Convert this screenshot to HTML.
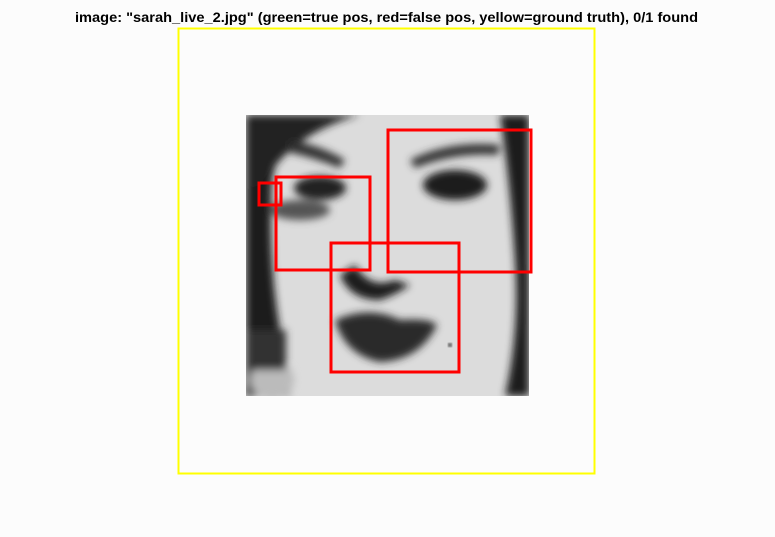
<!DOCTYPE html>
<html><head><meta charset="utf-8"><style>
html,body{margin:0;padding:0;background:#fcfcfc;}
svg{display:block;}
</style></head><body>
<svg id="chart" width="775" height="537" viewBox="0 0 775 537">
<defs>
<filter id="blur" x="-20%" y="-20%" width="140%" height="140%"><feGaussianBlur stdDeviation="4"/></filter>
<filter id="blur2"><feGaussianBlur stdDeviation="1.5"/></filter>
<clipPath id="imgclip"><rect x="246" y="115" width="283" height="281"/></clipPath>
</defs>
<text x="75" y="22" textLength="623" lengthAdjust="spacingAndGlyphs" font-family="Liberation Sans, sans-serif" font-size="14" font-weight="bold" fill="#000">image: "sarah_live_2.jpg" (green=true pos, red=false pos, yellow=ground truth), 0/1 found</text>
<g clip-path="url(#imgclip)">
<rect x="246" y="115" width="283" height="281" fill="#dcdcdc"/>
<g filter="url(#blur)">
<path d="M246,115 L300,115 Q280,140 272,180 Q268,260 280,330 L290,396 L246,396 Z" fill="#1a1a1a"/>
<path d="M246,115 L360,115 Q320,125 290,150 Q270,170 260,185 L246,190 Z" fill="#222"/>
<path d="M500,115 L529,115 L529,396 L505,396 Q520,330 515,260 Q510,180 500,115 Z" fill="#1e1e1e"/>
<path d="M290,140 Q320,145 345,160 L340,168 Q315,158 288,152 Z" fill="#333"/>
<path d="M410,160 Q450,140 500,145 L498,155 Q455,152 415,168 Z" fill="#333"/>
<ellipse cx="320" cy="188" rx="26" ry="12" fill="#222"/>
<ellipse cx="300" cy="210" rx="30" ry="10" fill="#555"/>
<ellipse cx="455" cy="185" rx="32" ry="15" fill="#1c1c1c"/>
<path d="M340,275 Q350,300 380,300 Q395,295 410,285 L395,280 Q370,290 355,265 Z" fill="#1a1a1a"/>
<path d="M335,320 Q370,305 400,320 Q430,318 437,325 Q420,360 380,362 Q345,355 335,320 Z" fill="#2a2a2a"/>
<ellipse cx="272" cy="380" rx="22" ry="20" fill="#bbb"/>
<rect x="246" y="330" width="40" height="40" fill="#333"/>
</g>
<circle cx="450" cy="345" r="2" fill="#222" filter="url(#blur2)"/>
</g>
<rect x="178.5" y="28.5" width="416" height="445" fill="none" stroke="#ffff00" stroke-width="2"/>
<g id="boxes"></g>
</svg>
<script>
const boxX = [259, 276, 388, 331];
const boxY = [183, 177, 130, 243];
const boxW = [22, 94, 143, 128];
const boxH = [22, 93, 142, 129];
const g = document.getElementById('boxes');
for (let i = 0; i < boxX.length; i++) {
  const r = document.createElementNS('http://www.w3.org/2000/svg', 'rect');
  r.setAttribute('x', boxX[i]);
  r.setAttribute('y', boxY[i]);
  r.setAttribute('width', boxW[i]);
  r.setAttribute('height', boxH[i]);
  r.setAttribute('fill', 'none');
  r.setAttribute('stroke', '#ff0000');
  r.setAttribute('stroke-width', '3');
  
  
  g.appendChild(r);
}
</script>
</body></html>
